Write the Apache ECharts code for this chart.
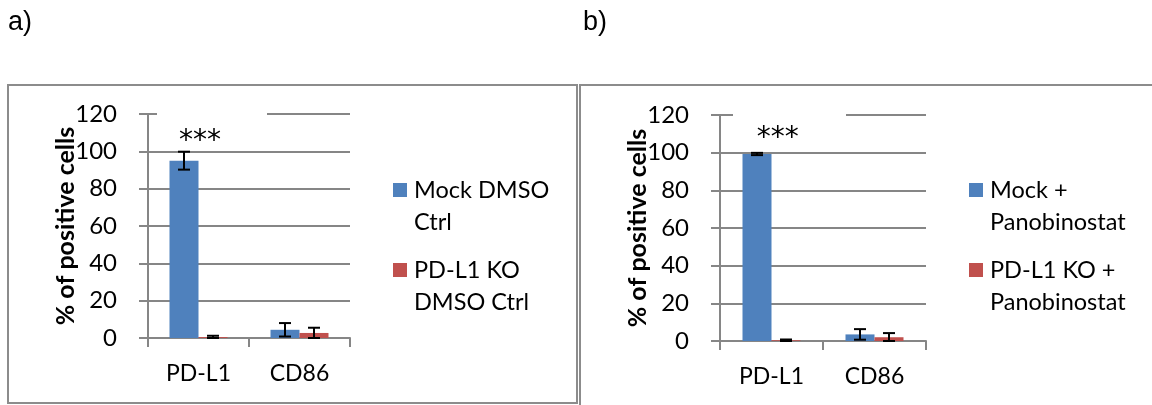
<!DOCTYPE html>
<html>
<head>
<meta charset="utf-8">
<title>% of positive cells</title>
<script src="https://cdn.jsdelivr.net/npm/echarts@6/dist/echarts.min.js"></script>
<style>
  html, body { margin: 0; padding: 0; background: #fff; }
  #main { width: 1152px; height: 405px; }
</style>
</head>
<body>
<div id="main"></div>
<script>
// data
var categories = ['PD-L1', 'CD86'];
var yTicks = [0, 20, 40, 60, 80, 100, 120];

// panel a) DMSO control
var mockDmso = [95, 4.4];
var mockDmsoErr = [4.8, 3.6];
var koDmso = [0.5, 2.7];
var koDmsoErr = [0.7, 2.8];

// panel b) Panobinostat
var mockPano = [99.3, 3.5];
var mockPanoErr = [0.6, 2.8];
var koPano = [0.4, 2.0];
var koPanoErr = [0.4, 2.2];

var legendNames = ['Mock DMSO Ctrl', 'PD-L1 KO DMSO Ctrl', 'Mock + Panobinostat', 'PD-L1 KO + Panobinostat'];
var legendLines = {
  'Mock DMSO Ctrl': 'Mock DMSO\nCtrl',
  'PD-L1 KO DMSO Ctrl': 'PD-L1 KO\nDMSO Ctrl',
  'Mock + Panobinostat': 'Mock +\nPanobinostat',
  'PD-L1 KO + Panobinostat': 'PD-L1 KO +\nPanobinostat'
};
var stars = '***';

var BLUE = '#4F81BD', RED = '#C0504D', GRID = '#868686';
var FONT = 'Lato';
var FS = 23;
var BARW = 29;

var myChart = echarts.init(document.getElementById('main'));

function errorBar(offset) {
  return function (params, api) {
    var x = api.value(0), v = api.value(1), e = api.value(2);
    var hi = api.coord([x, v + e]);
    var lo = api.coord([x, Math.max(0, v - e)]);
    var cx = hi[0] + offset, half = 6;
    var st = { stroke: '#000', lineWidth: 2 };
    return {
      type: 'group',
      children: [
        { type: 'line', shape: { x1: cx, y1: hi[1], x2: cx, y2: lo[1] }, style: st },
        { type: 'line', shape: { x1: cx - half, y1: hi[1], x2: cx + half, y2: hi[1] }, style: st },
        { type: 'line', shape: { x1: cx - half, y1: lo[1], x2: cx + half, y2: lo[1] }, style: st }
      ]
    };
  };
}

function errData(vals, errs) {
  return vals.map(function (v, i) { return [i, v, errs[i]]; });
}

// significance stars sit on the first bar as its label
function starItem(v, dist, offX) {
  return {
    value: v,
    label: {
      show: true, position: 'top', distance: dist, offset: [offX, 0],
      formatter: stars, color: '#000', fontFamily: 'DejaVu Sans', fontSize: 28, lineHeight: 28
    }
  };
}

function xAx(i) {
  return {
    type: 'category', gridIndex: i, data: categories,
    axisLine: { lineStyle: { color: GRID, width: 2 } },
    axisTick: { show: true, length: 9, lineStyle: { color: GRID, width: 2 } },
    axisLabel: { color: '#000', fontFamily: FONT, fontSize: FS, margin: 24 }
  };
}
function yAx(i) {
  return {
    type: 'value', gridIndex: i, min: yTicks[0], max: yTicks[yTicks.length - 1], interval: 20,
    name: '% of positive cells', nameLocation: 'middle', nameGap: 70, nameRotate: 90,
    nameMoveOverlap: false,
    nameTextStyle: { color: '#000', fontFamily: FONT, fontSize: 25, fontWeight: 'bold' },
    axisLine: { show: true, lineStyle: { color: GRID, width: 2 } },
    axisTick: { show: true, length: 9, lineStyle: { color: GRID, width: 2 } },
    splitLine: { lineStyle: { color: GRID, width: 2 } },
    axisLabel: { color: '#000', fontFamily: FONT, fontSize: 24, margin: 31 }
  };
}
function legendAt(name, left, top) {
  return {
    data: [name], left: left, top: top, orient: 'vertical', padding: 0,
    icon: 'rect', itemWidth: 14, itemHeight: 14, itemGap: 0,
    formatter: function (n) { return ' \n' + legendLines[n]; },
    textStyle: { color: '#000', fontFamily: FONT, fontSize: 23.5, lineHeight: 32, padding: [0, 0, 0, 2] }
  };
}

option = {
  animation: false,
  backgroundColor: '#fff',
  title: [
    { text: 'a)', left: 8, top: 9, padding: 0, textStyle: { fontFamily: 'Liberation Sans', fontSize: 27, fontWeight: 'normal', color: '#000' } },
    { text: 'b)', left: 583, top: 9, padding: 0, textStyle: { fontFamily: 'Liberation Sans', fontSize: 27, fontWeight: 'normal', color: '#000' } }
  ],
  graphic: [
    { type: 'rect', shape: { x: 8, y: 85, width: 569, height: 318 }, style: { fill: 'none', stroke: '#8c8c8c', lineWidth: 2 }, z: -10 },
    { type: 'rect', shape: { x: 580, y: 85, width: 620, height: 340 }, style: { fill: 'none', stroke: '#8c8c8c', lineWidth: 2 }, z: -10 },
    // white fill of the star text boxes, hides part of the top gridline
    { type: 'rect', shape: { x: 157, y: 106, width: 110, height: 16 }, style: { fill: '#fff' }, z: 1 },
    { type: 'rect', shape: { x: 733, y: 106, width: 113, height: 16 }, style: { fill: '#fff' }, z: 1 }
  ],
  legend: [
    legendAt(legendNames[0], 393, 142),
    legendAt(legendNames[1], 393, 222),
    legendAt(legendNames[2], 969, 142),
    legendAt(legendNames[3], 969, 222)
  ],
  grid: [
    { left: 148, top: 114, width: 202, height: 224 },
    { left: 720, top: 115, width: 206, height: 226 }
  ],
  xAxis: [xAx(0), xAx(1)],
  yAxis: [yAx(0), yAx(1)],
  series: [
    {
      name: legendNames[0], type: 'bar', xAxisIndex: 0, yAxisIndex: 0,
      barWidth: BARW, barGap: '0%', itemStyle: { color: BLUE },
      data: [starItem(mockDmso[0], 4.5, 16), mockDmso[1]]
    },
    {
      name: legendNames[1], type: 'bar', xAxisIndex: 0, yAxisIndex: 0,
      barWidth: BARW, barGap: '0%', itemStyle: { color: RED }, data: koDmso
    },
    {
      name: legendNames[2], type: 'bar', xAxisIndex: 1, yAxisIndex: 1,
      barWidth: BARW, barGap: '0%', itemStyle: { color: BLUE },
      data: [starItem(mockPano[0], 1.5, 20.7), mockPano[1]]
    },
    {
      name: legendNames[3], type: 'bar', xAxisIndex: 1, yAxisIndex: 1,
      barWidth: BARW, barGap: '0%', itemStyle: { color: RED }, data: koPano
    },
    { type: 'custom', xAxisIndex: 0, yAxisIndex: 0, z: 5, renderItem: errorBar(-BARW / 2), data: errData(mockDmso, mockDmsoErr) },
    { type: 'custom', xAxisIndex: 0, yAxisIndex: 0, z: 5, renderItem: errorBar(BARW / 2), data: errData(koDmso, koDmsoErr) },
    { type: 'custom', xAxisIndex: 1, yAxisIndex: 1, z: 5, renderItem: errorBar(-BARW / 2), data: errData(mockPano, mockPanoErr) },
    { type: 'custom', xAxisIndex: 1, yAxisIndex: 1, z: 5, renderItem: errorBar(BARW / 2), data: errData(koPano, koPanoErr) }
  ]
};
myChart.setOption(option);
</script>
</body>
</html>
